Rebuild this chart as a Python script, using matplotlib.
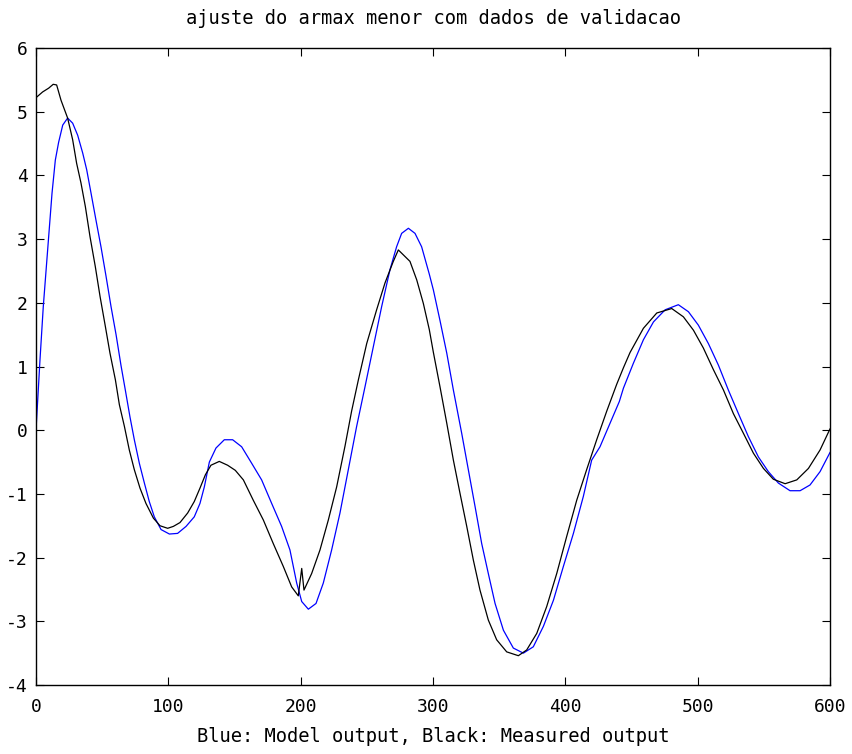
import matplotlib
matplotlib.use("Agg")
import matplotlib.pyplot as plt

# Measured output (black)
black_x = [0, 5, 9.6, 13, 15.6, 18.9, 23.9, 27.7, 30.7, 34, 37.3, 40.8, 44.8, 48.4,
           52.4, 55.9, 60, 63, 66.8, 70.5, 74.3, 78.6, 83.1, 88.7, 93.7, 99.5, 103.8,
           108.8, 114.6, 119.6, 123.9, 128, 132.2, 138.5, 144.8, 150.6, 156.7, 164.2,
           171.8, 179.3, 186.9, 193.2, 198.2, 200.8, 202.5, 208.3, 214.6, 220.9, 227.2,
           233.5, 238.5, 243.6, 249.9, 257.4, 263.7, 270, 273.8, 282.6, 287.7, 292.7,
           297.2, 300.3, 305.3, 310.4, 315.4, 320.4, 325.5, 330.5, 335.5, 341.8, 348.1,
           355.7, 364.5, 370.8, 378.4, 385.9, 393.5, 401, 408.6, 416.1, 423.7, 431.3,
           438.8, 443.9, 448.9, 459, 469.1, 480.4, 489.2, 496.8, 504.3, 511.9, 519.5,
           527, 534.6, 542.1, 549.7, 557.2, 566.1, 574.9, 583.7, 592.5, 600]
black_y = [5.22, 5.31, 5.37, 5.43, 5.42, 5.18, 4.90, 4.56, 4.19, 3.88, 3.51, 3.04, 2.57,
           2.10, 1.63, 1.21, 0.79, 0.40, 0.06, -0.31, -0.62, -0.91, -1.15, -1.38, -1.50,
           -1.54, -1.51, -1.45, -1.30, -1.12, -0.91, -0.70, -0.55, -0.49, -0.55, -0.63,
           -0.78, -1.10, -1.41, -1.78, -2.14, -2.46, -2.60, -2.17, -2.51, -2.25, -1.88,
           -1.41, -0.89, -0.25, 0.30, 0.79, 1.36, 1.89, 2.31, 2.65, 2.83, 2.65, 2.36,
           1.99, 1.58, 1.22, 0.68, 0.11, -0.47, -0.99, -1.51, -2.04, -2.51, -2.98, -3.29,
           -3.48, -3.54, -3.45, -3.19, -2.77, -2.25, -1.67, -1.10, -0.62, -0.15, 0.30,
           0.72, 0.98, 1.22, 1.60, 1.84, 1.91, 1.78, 1.57, 1.29, 0.95, 0.63, 0.26, -0.05,
           -0.36, -0.60, -0.77, -0.84, -0.78, -0.60, -0.31, 0.02]

# Model output (blue)
blue_x = [0, 3, 5.5, 8.8, 12.1, 14.6, 17.1, 20.2, 23.9, 27.7, 31.5, 35.3, 38.3, 41.6,
          45.3, 49.1, 52.9, 56.7, 60.5, 64.2, 67.5, 71, 74.3, 78.1, 81.9, 85.6, 89.4,
          94.5, 100.8, 107, 113.4, 119.6, 123.9, 127.2, 131, 136, 142.3, 148.6, 155.4,
          163, 170.5, 178.1, 185.6, 191.9, 197, 200.8, 205.8, 211.6, 217.1, 223.4,
          229.7, 236, 242.3, 248.6, 254.9, 261.2, 267.5, 272.5, 276.3, 281.4, 286.4,
          291.4, 297.2, 300.3, 305.3, 310.4, 315.4, 321.7, 326.7, 331.8, 336.8, 341.8,
          346.9, 353.2, 360.7, 368.3, 375.8, 383.4, 391, 398.5, 406.1, 413.6, 419.9,
          426.2, 433.8, 440.8, 443.9, 451.4, 459, 466.6, 475.4, 485.4, 493, 500.5,
          508.1, 515.7, 523.2, 530.8, 538.3, 545.9, 553.4, 561, 569.8, 577.4, 584.9,
          592.5, 600]
blue_y = [0.0, 1.10, 1.94, 2.83, 3.72, 4.24, 4.52, 4.79, 4.90, 4.82, 4.63, 4.35, 4.09,
          3.72, 3.30, 2.88, 2.42, 1.94, 1.50, 1.02, 0.63, 0.21, -0.15, -0.52, -0.83,
          -1.12, -1.36, -1.56, -1.63, -1.62, -1.51, -1.36, -1.15, -0.89, -0.50, -0.28,
          -0.15, -0.15, -0.26, -0.52, -0.78, -1.15, -1.51, -1.88, -2.40, -2.69, -2.81,
          -2.72, -2.40, -1.88, -1.30, -0.62, 0.06, 0.68, 1.31, 1.94, 2.52, 2.88, 3.09,
          3.17, 3.09, 2.88, 2.45, 2.20, 1.72, 1.21, 0.63, -0.05, -0.62, -1.20, -1.78,
          -2.25, -2.72, -3.14, -3.42, -3.50, -3.40, -3.08, -2.67, -2.14, -1.62, -1.04,
          -0.47, -0.26, 0.11, 0.45, 0.66, 1.05, 1.42, 1.70, 1.89, 1.97, 1.86, 1.65,
          1.36, 1.02, 0.63, 0.26, -0.10, -0.42, -0.65, -0.83, -0.95, -0.95, -0.86,
          -0.65, -0.35]

x_ticks = [0, 100, 200, 300, 400, 500, 600]
y_ticks = [-4, -3, -2, -1, 0, 1, 2, 3, 4, 5, 6]
title = "ajuste do armax menor com dados de validacao"
xlabel = "Blue: Model output, Black: Measured output"

plt.rcParams['font.family'] = ['DejaVu Sans Mono']

W, H = 852, 754
fig = plt.figure(figsize=(W / 100, H / 100), dpi=100)
ax = fig.add_axes([36 / W, (H - 685) / H, 794 / W, 637 / H])

ax.plot(blue_x, blue_y, color='#0000ff', lw=0.9)
ax.plot(black_x, black_y, color='black', lw=0.9)

ax.set_xlim(0, 600)
ax.set_ylim(-4, 6)
ax.set_xticks(x_ticks)
ax.set_yticks(y_ticks)
ax.set_xticklabels([str(v) for v in x_ticks])
ax.set_yticklabels([str(v) for v in y_ticks])
ax.tick_params(direction='in', length=6, width=0.8, top=True, right=True,
               labelsize=13, colors='black')
ax.tick_params(axis='x', pad=9)
ax.tick_params(axis='y', pad=6)
for s in ax.spines.values():
    s.set_linewidth(1.0)

ax.set_title(title, fontsize=13.5, pad=17)
ax.set_xlabel(xlabel, fontsize=13.5, labelpad=8)

fig.savefig("out.png", dpi=100)
